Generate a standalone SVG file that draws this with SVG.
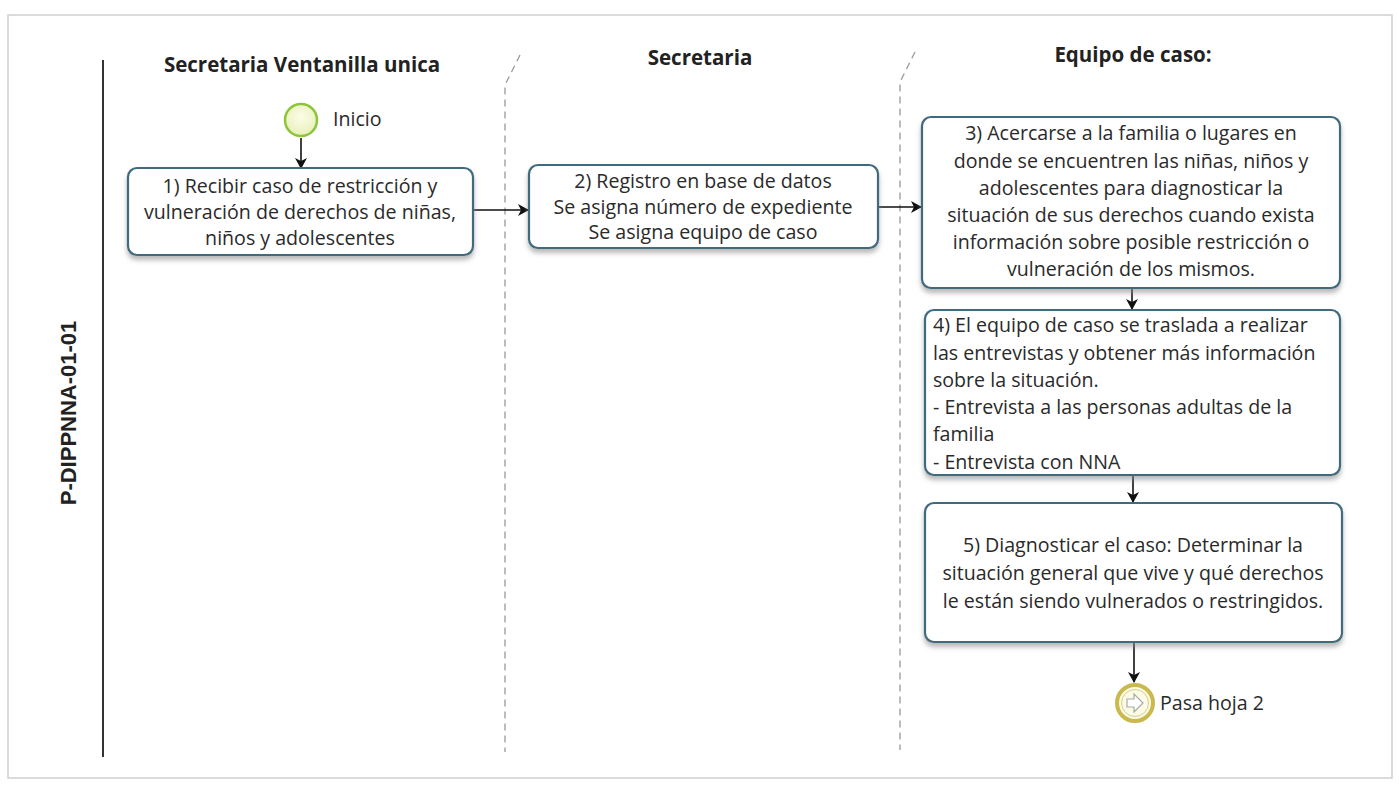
<svg xmlns="http://www.w3.org/2000/svg" width="1399" height="790" viewBox="0 0 1399 790">
<defs>
<marker id="ah" markerWidth="12" markerHeight="12" refX="10" refY="6" orient="auto" markerUnits="userSpaceOnUse">
<path d="M0,0 L11,6 L0,12 L3,6 Z" fill="#111"/>
</marker>
<filter id="sh" x="-5%" y="-10%" width="110%" height="130%">
<feDropShadow dx="0" dy="4" stdDeviation="2.5" flood-color="#888" flood-opacity="0.6"/>
</filter>
<radialGradient id="gStart" cx="50%" cy="40%" r="60%">
<stop offset="0" stop-color="#fbfde8"/>
<stop offset="1" stop-color="#e8f0b8"/>
</radialGradient>
</defs>
<style>
.box{fill:#fff;stroke:#3f6b7e;stroke-width:2.2;filter:url(#sh)}
.t{font-family:"Open Sans","Noto Sans",sans-serif;font-size:19.6px;fill:#2a2a2a}
.c{text-anchor:middle}
.h{font-family:"Open Sans","Noto Sans",sans-serif;font-size:20.5px;font-weight:bold;fill:#222;text-anchor:middle}
.con{fill:none;stroke:#111;stroke-width:1.6;marker-end:url(#ah)}
.lane{fill:none;stroke:#999;stroke-width:1.3;stroke-dasharray:7,5}
</style>
<rect x="0" y="0" width="1399" height="790" fill="#fff"/>
<rect x="8" y="15" width="1384" height="763" fill="none" stroke="#cfcfcf" stroke-width="1.5"/>
<line x1="103" y1="60" x2="103" y2="757" stroke="#333" stroke-width="2"/>
<text x="70" y="413" transform="rotate(-90 70 413)" text-anchor="middle" dominant-baseline="middle" font-family="Liberation Sans, Arial, sans-serif" font-size="22" font-weight="bold" fill="#222">P-DIPPNNA-01-01</text>

<g id="lanes">
<path class="lane" d="M520,55 L505,85 L505,752"/>
<path class="lane" d="M915,52 L900,82 L900,750"/>
<text class="h" x="302" y="72">Secretaria Ventanilla unica</text>
<text class="h" x="700" y="65">Secretaria</text>
<text class="h" x="1133" y="62">Equipo de caso:</text>
</g>

<g id="connectors">
<line class="con" x1="301" y1="138" x2="301" y2="168"/>
<line class="con" x1="473" y1="210" x2="528" y2="210"/>
<line class="con" x1="878" y1="207" x2="921" y2="207"/>
<line class="con" x1="1132" y1="288" x2="1132" y2="309"/>
<line class="con" x1="1133" y1="475" x2="1133" y2="502"/>
<line class="con" x1="1134" y1="642" x2="1134" y2="682"/>
</g>

<g id="start">
<circle cx="301" cy="120" r="16" fill="url(#gStart)" stroke="#8cc43c" stroke-width="2.5"/>
<text class="t" x="333" y="126">Inicio</text>
</g>

<g id="n1">
<rect class="box" x="128" y="168" width="345" height="87" rx="9"/>
<text class="t c" x="300" y="193">1) Recibir caso de restricción y</text>
<text class="t c" x="300" y="219">vulneración de derechos de niñas,</text>
<text class="t c" x="300" y="245">niños y adolescentes</text>
</g>

<g id="n2">
<rect class="box" x="529" y="165" width="349" height="83" rx="9"/>
<text class="t c" x="703" y="188">2) Registro en base de datos</text>
<text class="t c" x="703" y="214">Se asigna número de expediente</text>
<text class="t c" x="703" y="239">Se asigna equipo de caso</text>
</g>

<g id="n3">
<rect class="box" x="922" y="117" width="418" height="171" rx="9"/>
<text class="t c" x="1131" y="140">3) Acercarse a la familia o lugares en</text>
<text class="t c" x="1131" y="168">donde se encuentren las niñas, niños y</text>
<text class="t c" x="1131" y="195">adolescentes para diagnosticar  la</text>
<text class="t c" x="1131" y="222">situación de sus derechos cuando exista</text>
<text class="t c" x="1131" y="249">información sobre posible restricción o</text>
<text class="t c" x="1131" y="276">vulneración de los mismos.</text>
</g>

<g id="n4">
<rect class="box" x="925" y="310" width="415" height="165" rx="9"/>
<text class="t" x="933" y="332">4) El equipo de caso se traslada a realizar</text>
<text class="t" x="933" y="360">las entrevistas y obtener más información</text>
<text class="t" x="933" y="387">sobre la situación.</text>
<text class="t" x="933" y="414">- Entrevista a las personas adultas de la</text>
<text class="t" x="933" y="441">familia</text>
<text class="t" x="933" y="469">- Entrevista con NNA</text>
</g>

<g id="n5">
<rect class="box" x="925" y="503" width="417" height="139" rx="9"/>
<text class="t c" x="1133" y="552">5) Diagnosticar el caso: Determinar la</text>
<text class="t c" x="1133" y="580">situación general que vive y qué derechos</text>
<text class="t c" x="1133" y="608">le están siendo vulnerados o restringidos.</text>
</g>

<g id="end">
<circle cx="1135" cy="703" r="18" fill="#fbfbe6" stroke="#c9b94e" stroke-width="4"/>
<circle cx="1135" cy="703" r="13.5" fill="none" stroke="#d8cf8a" stroke-width="1"/>
<path d="M1127,699 L1134,699 L1134,694 L1143,703 L1134,712 L1134,707 L1127,707 Z" fill="#fff" stroke="#aaa" stroke-width="1.2"/>
<text class="t" x="1160" y="710">Pasa hoja 2</text>
</g>
</svg>
